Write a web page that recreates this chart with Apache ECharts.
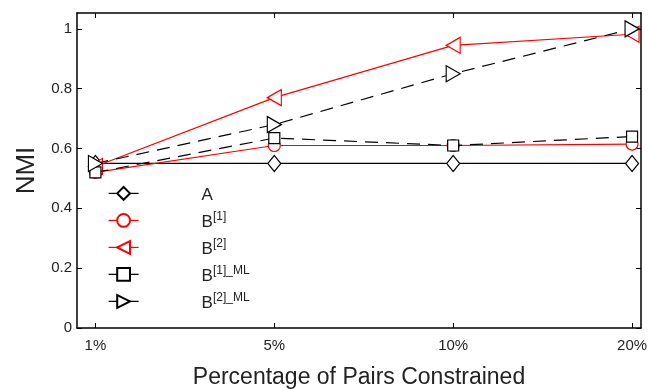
<!DOCTYPE html>
<html>
<head>
<meta charset="utf-8">
<script src="https://cdn.jsdelivr.net/npm/echarts@6/dist/echarts.min.js"></script>
<style>
  html, body { margin: 0; padding: 0; background: #fff; }
  #chart { width: 651px; height: 389px; }
</style>
</head>
<body>
<div id="chart"></div>
<script>
const categories = ["1%", "5%", "10%", "20%"];
const yTicks = [0, 0.2, 0.4, 0.6, 0.8, 1];
const seriesA = [0.55, 0.55, 0.55, 0.55];
const seriesB1 = [0.52, 0.61, 0.61, 0.615];
const seriesB2 = [0.54, 0.77, 0.945, 0.982];
const seriesB1ML = [0.52, 0.635, 0.61, 0.64];
const seriesB2ML = [0.55, 0.68, 0.85, 1.0];

const font = "Liberation Sans";
const chart = echarts.init(document.getElementById("chart"));

const toPoints = arr => arr.map((v, i) => [i, v]);

const mk = (name, data, color, symbol, size, rotate, dashed) => ({
  name: name,
  type: "line",
  data: toPoints(data),
  symbol: symbol,
  symbolSize: size,
  symbolRotate: rotate,
  showAllSymbol: true,
  lineStyle: { color: color, width: 1.2, type: dashed ? [13, 8] : "solid" },
  itemStyle: { color: "#fff", borderColor: color, borderWidth: 1.2 },
  emphasis: { disabled: true },
  z: dashed ? 3 : 2,
});

const legendNames = {
  "A": "{m|A}",
  "B1": "{m|B}{s|[1]}",
  "B2": "{m|B}{s|[2]}",
  "B1ML": "{m|B}{s|[1]_ML}",
  "B2ML": "{m|B}{s|[2]_ML}",
};

// frame axis pieces shared by all four sides
const frameLine = { show: true, onZero: false, lineStyle: { color: "#000", width: 1.5 } };
const tick = vals => ({ inside: true, length: 5, customValues: vals, lineStyle: { color: "#000" } });
const xIdx = [0, 1, 2, 3];

const option = {
  animation: false,
  textStyle: { fontFamily: font },
  grid: { left: 77, right: 10, top: 13, bottom: 61, outerBoundsMode: "none" },
  legend: {
    orient: "vertical",
    left: 108,
    top: 186,
    padding: 0,
    itemWidth: 30,
    itemHeight: 16,
    itemGap: 7,
    selectedMode: false,
    data: ["A", "B1", "B2", "B1ML", "B2ML"],
    formatter: n => legendNames[n],
    lineStyle: { width: 1.2 },
    textStyle: {
      padding: [0, 0, 0, 58],
      rich: {
        m: { fontSize: 17, color: "#222", fontFamily: font, verticalAlign: "bottom", lineHeight: 20 },
        s: { fontSize: 12, color: "#222", fontFamily: font, verticalAlign: "top", lineHeight: 20, padding: [0, 0, 8, 0] },
      },
    },
  },
  xAxis: [
    {
      type: "value",
      min: -0.103,
      max: 3.05,
      name: "Percentage of Pairs Constrained",
      nameLocation: "middle",
      nameGap: 38,
      nameTextStyle: { fontSize: 23, color: "#222", fontFamily: font },
      axisLine: frameLine,
      axisTick: tick(xIdx),
      axisLabel: {
        customValues: xIdx,
        formatter: v => categories[Math.round(v)],
        fontSize: 15, color: "#222", margin: 10,
      },
      splitLine: { show: false },
    },
    {
      type: "value",
      position: "top",
      min: -0.103,
      max: 3.05,
      axisLine: frameLine,
      axisTick: tick(xIdx),
      axisLabel: { show: false },
      splitLine: { show: false },
    },
  ],
  yAxis: [
    {
      type: "value",
      min: 0,
      max: 1.053,
      name: "NMI",
      nameLocation: "middle",
      nameGap: 34,
      nameTextStyle: { fontSize: 26, color: "#222", fontFamily: font },
      axisLine: frameLine,
      axisTick: tick(yTicks),
      axisLabel: { customValues: yTicks, fontSize: 15, color: "#222", margin: 5 },
      splitLine: { show: false },
    },
    {
      type: "value",
      position: "right",
      min: 0,
      max: 1.053,
      axisLine: frameLine,
      axisTick: tick(yTicks),
      axisLabel: { show: false },
      splitLine: { show: false },
    },
  ],
  series: [
    mk("A", seriesA, "#000", "diamond", [13, 16], 0, false),
    mk("B1", seriesB1, "#f00", "circle", 12, 0, false),
    mk("B2", seriesB2, "#f00", "triangle", [16, 14], 90, false),
    mk("B1ML", seriesB1ML, "#000", "rect", 11, 0, true),
    mk("B2ML", seriesB2ML, "#000", "triangle", [16, 14], -90, true),
  ],
};

chart.setOption(option);
</script>
</body>
</html>
